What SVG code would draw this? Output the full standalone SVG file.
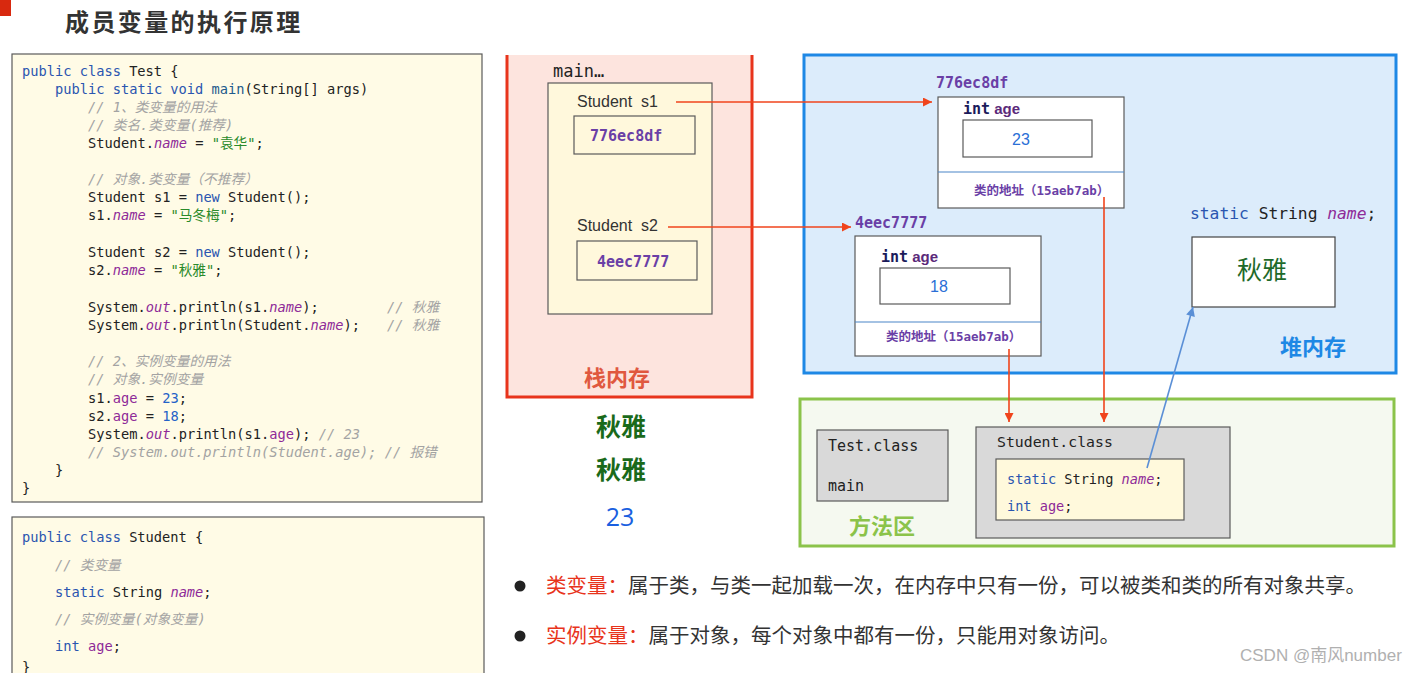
<svg xmlns="http://www.w3.org/2000/svg" width="1417" height="673" viewBox="0 0 1417 673">
<style>
text{white-space:pre}
.code{font-family:"DejaVu Sans Mono","Noto Sans CJK SC",monospace;font-size:13.7px;fill:#222}
.k{fill:#2a55b0}
.m{fill:#1e5a8c}
.c{fill:#a3a3a3;font-style:italic}
.f{fill:#8e2a98;font-style:italic}
.a{fill:#8e2a98}
.s{fill:#2a8a2a}
.n{fill:#2462c8}
.box{stroke:#5a5a5a;stroke-width:1.2}
.addr{font-family:"DejaVu Sans Mono","Noto Sans CJK SC",monospace;font-size:15px;font-weight:bold;fill:#6a3fa6}
.lbl{font-family:"Liberation Sans","Noto Sans CJK SC",sans-serif;font-size:16px;fill:#333}
.cls{font-family:"Noto Sans CJK SC",sans-serif;font-size:12.5px;font-weight:bold;fill:#6a3fa6}
.cn{font-family:"Noto Sans CJK SC",sans-serif}
.red{stroke:#f0441c;stroke-width:1.6;fill:none}
.blue{stroke:#5a8fd6;stroke-width:1.6;fill:none}
</style>
<defs>
<marker id="ar" viewBox="0 0 10 10" refX="10" refY="5" markerWidth="10" markerHeight="9" orient="auto" markerUnits="userSpaceOnUse"><path d="M0,0 L10,5 L0,10 z" fill="#f0441c"/></marker>
<marker id="ab" viewBox="0 0 10 10" refX="10" refY="5" markerWidth="10" markerHeight="9" orient="auto" markerUnits="userSpaceOnUse"><path d="M0,0 L10,5 L0,10 z" fill="#5a8fd6"/></marker>
</defs>
<rect width="1417" height="673" fill="#ffffff"/>

<g id="title">
<rect x="0" y="0" width="11" height="16" fill="#d8290f"/>
<text x="65" y="31" class="cn" font-size="24" font-weight="bold" fill="#333" letter-spacing="2.4">成员变量的执行原理</text>
</g>

<g id="code-test">
<rect x="12" y="54" width="470" height="448" fill="#fffbe6" class="box"/>
<text class="code" x="22" y="76"><tspan class="k">public class</tspan> Test {</text>
<text class="code" x="55" y="94"><tspan class="k">public static void</tspan> <tspan class="m">main</tspan>(String[] args)</text>
<text class="code" x="88" y="112"><tspan class="c">// 1、类变量的用法</tspan></text>
<text class="code" x="88" y="130"><tspan class="c">// 类名.类变量(推荐)</tspan></text>
<text class="code" x="88" y="148">Student.<tspan class="f">name</tspan> = <tspan class="s">"袁华"</tspan>;</text>
<text class="code" x="88" y="184"><tspan class="c">// 对象.类变量（不推荐）</tspan></text>
<text class="code" x="88" y="202">Student s1 = <tspan class="k">new</tspan> Student();</text>
<text class="code" x="88" y="220">s1.<tspan class="f">name</tspan> = <tspan class="s">"马冬梅"</tspan>;</text>
<text class="code" x="88" y="257">Student s2 = <tspan class="k">new</tspan> Student();</text>
<text class="code" x="88" y="275">s2.<tspan class="f">name</tspan> = <tspan class="s">"秋雅"</tspan>;</text>
<text class="code" x="88" y="312">System.<tspan class="f">out</tspan>.println(s1.<tspan class="f">name</tspan>);</text>
<text class="code" x="387" y="312"><tspan class="c">// 秋雅</tspan></text>
<text class="code" x="88" y="330">System.<tspan class="f">out</tspan>.println(Student.<tspan class="f">name</tspan>);</text>
<text class="code" x="387" y="330"><tspan class="c">// 秋雅</tspan></text>
<text class="code" x="88" y="366"><tspan class="c">// 2、实例变量的用法</tspan></text>
<text class="code" x="88" y="384"><tspan class="c">// 对象.实例变量</tspan></text>
<text class="code" x="88" y="403">s1.<tspan class="a">age</tspan> = <tspan class="n">23</tspan>;</text>
<text class="code" x="88" y="421">s2.<tspan class="a">age</tspan> = <tspan class="n">18</tspan>;</text>
<text class="code" x="88" y="439">System.<tspan class="f">out</tspan>.println(s1.<tspan class="a">age</tspan>); <tspan class="c">// 23</tspan></text>
<text class="code" x="88" y="457"><tspan class="c">// System.out.println(Student.age); // 报错</tspan></text>
<text class="code" x="55" y="475">}</text>
<text class="code" x="22" y="493">}</text>
</g>

<g id="code-student">
<rect x="12" y="517" width="472" height="170" fill="#fffbe6" class="box"/>
<text class="code" x="22" y="542"><tspan class="k">public class</tspan> Student {</text>
<text class="code" x="55" y="570"><tspan class="c">// 类变量</tspan></text>
<text class="code" x="55" y="597"><tspan class="k">static</tspan> String <tspan class="f">name</tspan>;</text>
<text class="code" x="55" y="624"><tspan class="c">// 实例变量(对象变量)</tspan></text>
<text class="code" x="55" y="651"><tspan class="k">int</tspan> <tspan class="a">age</tspan>;</text>
<text class="code" x="22" y="672">}</text>
</g>

<g id="stack">
<rect x="507" y="55" width="245" height="342" fill="#fde4de"/>
<path d="M507,55 V397 H752 V55" fill="none" stroke="#e8341c" stroke-width="3"/>
<text x="553" y="77" font-family="DejaVu Sans Mono,monospace" font-size="17" fill="#222">main…</text>
<rect x="548" y="83" width="164" height="231" fill="#fff8dc" class="box"/>
<text x="577" y="107" class="lbl" font-size="16.5">Student  s1</text>
<rect x="574" y="116" width="121" height="38" fill="#fff8dc" class="box"/>
<text x="590" y="141" class="addr">776ec8df</text>
<text x="577" y="231" class="lbl" font-size="16.5">Student  s2</text>
<rect x="577" y="241" width="120" height="39" fill="#fff8dc" class="box"/>
<text x="597" y="267" class="addr">4eec7777</text>
<text x="617" y="386" text-anchor="middle" class="cn" font-size="22" font-weight="bold" fill="#e0583f">栈内存</text>
</g>

<g id="heap">
<rect x="804" y="55" width="592" height="318" fill="#dcecfb" stroke="#1e88e5" stroke-width="3"/>
<text x="1313" y="355" text-anchor="middle" class="cn" font-size="22" font-weight="bold" fill="#1e88e5">堆内存</text>
</g>

<g id="obj1">
<text x="936" y="88" class="addr">776ec8df</text>
<rect x="938" y="97" width="186" height="111" fill="#ffffff" class="box"/>
<line x1="938" y1="172" x2="1124" y2="172" stroke="#4a86c8" stroke-width="1.2"/>
<text x="963" y="114" font-size="15" font-weight="bold"><tspan font-family="DejaVu Sans Mono,monospace" fill="#1a1a5a">int</tspan><tspan font-family="Liberation Sans,sans-serif" fill="#5b2a7a"> age</tspan></text>
<rect x="963" y="120" width="129" height="37" fill="#ffffff" class="box"/>
<text x="1021" y="145" text-anchor="middle" font-family="Liberation Sans,sans-serif" font-size="16" fill="#2a6fd6">23</text>
<text x="974" y="195" class="cls">类的地址（<tspan font-family="DejaVu Sans Mono,monospace">15aeb7ab</tspan>）</text>
</g>

<g id="obj2">
<text x="855" y="228" class="addr">4eec7777</text>
<rect x="855" y="236" width="186" height="120" fill="#ffffff" class="box"/>
<line x1="855" y1="322" x2="1041" y2="322" stroke="#4a86c8" stroke-width="1.2"/>
<text x="881" y="262" font-size="15" font-weight="bold"><tspan font-family="DejaVu Sans Mono,monospace" fill="#1a1a5a">int</tspan><tspan font-family="Liberation Sans,sans-serif" fill="#5b2a7a"> age</tspan></text>
<rect x="880" y="268" width="130" height="36" fill="#ffffff" class="box"/>
<text x="939" y="292" text-anchor="middle" font-family="Liberation Sans,sans-serif" font-size="16" fill="#2a6fd6">18</text>
<text x="886" y="341" class="cls">类的地址（<tspan font-family="DejaVu Sans Mono,monospace">15aeb7ab</tspan>）</text>
</g>

<g id="static-name">
<text x="1190" y="219" font-family="DejaVu Sans Mono,monospace" font-size="16.3" fill="#222"><tspan class="k">static</tspan> String <tspan class="f">name</tspan>;</text>
<rect x="1192" y="237" width="143" height="70" fill="#ffffff" stroke="#444" stroke-width="1.2"/>
<text x="1262" y="279" text-anchor="middle" class="cn" font-size="25" fill="#1e6a2a">秋雅</text>
</g>

<g id="method-area">
<rect x="800" y="399" width="594" height="147" fill="#f5f9f0" stroke="#8bc34a" stroke-width="3"/>
<text x="882" y="534" text-anchor="middle" class="cn" font-size="22" font-weight="bold" fill="#8bc34a">方法区</text>
</g>

<g id="test-class">
<rect x="817" y="430" width="131" height="71" fill="#d9d9d9" class="box"/>
<text x="828" y="451" font-family="DejaVu Sans Mono,monospace" font-size="15" fill="#222">Test.class</text>
<text x="828" y="491" font-family="DejaVu Sans Mono,monospace" font-size="15" fill="#222">main</text>
</g>

<g id="student-class">
<rect x="976" y="427" width="254" height="111" fill="#d9d9d9" class="box"/>
<text x="997" y="447" font-family="DejaVu Sans Mono,monospace" font-size="14.8" fill="#222">Student.class</text>
<rect x="996" y="459" width="188" height="61" fill="#fff9dc" class="box"/>
<text x="1007" y="484" font-family="DejaVu Sans Mono,monospace" font-size="13.6" fill="#222"><tspan class="k">static</tspan> String <tspan class="f">name</tspan>;</text>
<text x="1007" y="511" font-family="DejaVu Sans Mono,monospace" font-size="13.6" fill="#222"><tspan class="k">int</tspan> <tspan class="a">age</tspan>;</text>
</g>

<g id="output">
<text x="621" y="436" text-anchor="middle" class="cn" font-size="25" font-weight="bold" fill="#1a6a1a">秋雅</text>
<text x="621" y="479" text-anchor="middle" class="cn" font-size="25" font-weight="bold" fill="#1a6a1a">秋雅</text>
<text x="620" y="526" text-anchor="middle" font-family="Open Sans,sans-serif" font-size="25" fill="#1a5fe0">23</text>
</g>

<g id="notes">
<circle cx="520" cy="586" r="5.5" fill="#222"/>
<text x="546" y="593" class="cn" font-size="20.5" fill="#333"><tspan fill="#e8341c">类变量：</tspan>属于类，与类一起加载一次，在内存中只有一份，可以被类和类的所有对象共享。</text>
<circle cx="520" cy="636" r="5.5" fill="#222"/>
<text x="546" y="643" class="cn" font-size="20.5" fill="#333"><tspan fill="#e8341c">实例变量：</tspan>属于对象，每个对象中都有一份，只能用对象访问。</text>
<text x="1240" y="661" font-family="Liberation Sans,Noto Sans CJK SC,sans-serif" font-size="17" fill="#b0b0b0">CSDN @南风number</text>
</g>

<g id="connectors">
<line x1="676" y1="102" x2="932" y2="102" class="red" marker-end="url(#ar)"/>
<line x1="668" y1="227" x2="851" y2="227" class="red" marker-end="url(#ar)"/>
<line x1="1009" y1="349" x2="1009" y2="422" class="red" marker-end="url(#ar)"/>
<line x1="1104" y1="197" x2="1104" y2="422" class="red" marker-end="url(#ar)"/>
<line x1="1147" y1="468" x2="1193" y2="307" class="blue" marker-end="url(#ab)"/>
</g>
</svg>
